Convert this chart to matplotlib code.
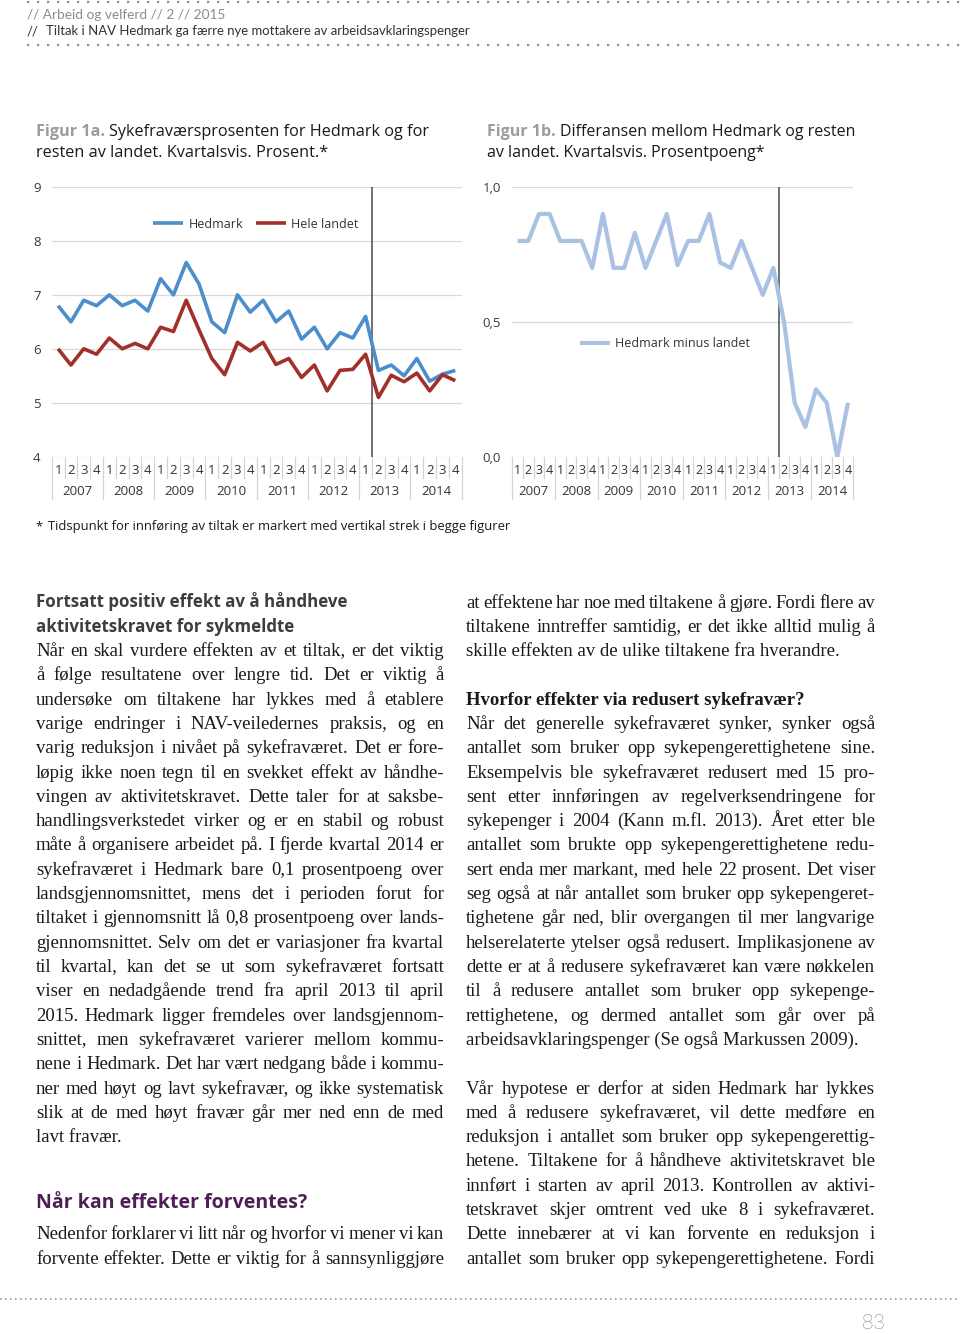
import numpy as np
import matplotlib
matplotlib.use('Agg')
import matplotlib.pyplot as plt
from matplotlib.transforms import blended_transform_factory
from matplotlib.font_manager import FontProperties
from matplotlib.backends.backend_agg import get_hinting_flag

W, H = 960, 1334

# values (quarterly 2007-2014)
years = ['2007', '2008', '2009', '2010', '2011', '2012', '2013', '2014']
quarters = ['1', '2', '3', '4']
hedmark = [6.8, 6.5, 6.9, 6.8, 7.0, 6.8, 6.9, 6.7,
           7.3, 7.0, 7.6, 7.2, 6.5, 6.3, 7.0, 6.68,
           6.9, 6.5, 6.7, 6.18, 6.4, 6.0, 6.3, 6.2,
           6.6, 5.6, 5.7, 5.5, 5.82, 5.4, 5.53, 5.6]
landet = [6.0, 5.7, 6.0, 5.9, 6.2, 6.0, 6.1, 6.0,
          6.4, 6.32, 6.9, 6.35, 5.82, 5.52, 6.12, 5.96,
          6.12, 5.71, 5.82, 5.47, 5.7, 5.22, 5.6, 5.62,
          5.9, 5.1, 5.51, 5.39, 5.55, 5.22, 5.52, 5.41]
hedmark_minus_landet = [0.8, 0.8, 0.9, 0.9, 0.8, 0.8, 0.8, 0.7,
                        0.9, 0.7, 0.7, 0.83, 0.7, 0.8, 0.9, 0.71,
                        0.8, 0.8, 0.9, 0.72, 0.7, 0.8, 0.7, 0.6,
                        0.7, 0.5, 0.2, 0.11, 0.25, 0.2, 0.0, 0.2]
tiltak_index = 24  # 2013 q1, tiltak starts right after
ticks_a = [4, 5, 6, 7, 8, 9]
ticks_b = [0.0, 0.5, 1.0]
ticklabels_b = ['0,0', '0,5', '1,0']

header1 = '// Arbeid og velferd // 2 // 2015'
header2 = 'Tiltak i NAV Hedmark ga færre nye mottakere av arbeidsavklaringspenger'
title_a = ['Sykefraværsprosenten for Hedmark og for', 'resten av landet. Kvartalsvis. Prosent.*']
title_b = ['Differansen mellom Hedmark og resten', 'av landet. Kvartalsvis. Prosentpoeng*']
footnote = 'Tidspunkt for innføring av tiltak er markert med vertikal strek i begge figurer'

left_head = ['Fortsatt positiv effekt av å håndheve', 'aktivitetskravet for sykmeldte']
left_par = [
    'Når en skal vurdere effekten av et tiltak, er det viktig',
    'å følge resultatene over lengre tid. Det er viktig å',
    'undersøke om tiltakene har lykkes med å etablere',
    'varige endringer i NAV-veiledernes praksis, og en',
    'varig reduksjon i nivået på sykefraværet. Det er fore-',
    'løpig ikke noen tegn til en svekket effekt av håndhe-',
    'vingen av aktivitetskravet. Dette taler for at saksbe-',
    'handlingsverkstedet virker og er en stabil og robust',
    'måte å organisere arbeidet på. I fjerde kvartal 2014 er',
    'sykefraværet i Hedmark bare 0,1 prosentpoeng over',
    'landsgjennomsnittet, mens det i perioden forut for',
    'tiltaket i gjennomsnitt lå 0,8 prosentpoeng over lands-',
    'gjennomsnittet. Selv om det er variasjoner fra kvartal',
    'til kvartal, kan det se ut som sykefraværet fortsatt',
    'viser en nedadgående trend fra april 2013 til april',
    '2015. Hedmark ligger fremdeles over landsgjennom-',
    'snittet, men sykefraværet varierer mellom kommu-',
    'nene i Hedmark. Det har vært nedgang både i kommu-',
    'ner med høyt og lavt sykefravær, og ikke systematisk',
    'slik at de med høyt fravær går mer ned enn de med',
    'lavt fravær.',
]
left_head2 = 'Når kan effekter forventes?'
left_par2 = [
    'Nedenfor forklarer vi litt når og hvorfor vi mener vi kan',
    'forvente effekter. Dette er viktig for å sannsynliggjøre',
]
right_par1 = [
    'at effektene har noe med tiltakene å gjøre. Fordi flere av',
    'tiltakene inntreffer samtidig, er det ikke alltid mulig å',
    'skille effekten av de ulike tiltakene fra hverandre.',
]
right_head = 'Hvorfor effekter via redusert sykefravær?'
right_par2 = [
    'Når det generelle sykefraværet synker, synker også',
    'antallet som bruker opp sykepengerettighetene sine.',
    'Eksempelvis ble sykefraværet redusert med 15 pro-',
    'sent etter innføringen av regelverksendringene for',
    'sykepenger i 2004 (Kann m.fl. 2013). Året etter ble',
    'antallet som brukte opp sykepengerettighetene redu-',
    'sert enda mer markant, med hele 22 prosent. Det viser',
    'seg også at når antallet som bruker opp sykepengeret-',
    'tighetene går ned, blir overgangen til mer langvarige',
    'helserelaterte ytelser også redusert. Implikasjonene av',
    'dette er at å redusere sykefraværet kan være nøkkelen',
    'til å redusere antallet som bruker opp sykepenge-',
    'rettighetene, og dermed antallet som går over på',
    'arbeidsavklaringspenger (Se også Markussen 2009).',
]
right_par3 = [
    'Vår hypotese er derfor at siden Hedmark har lykkes',
    'med å redusere sykefraværet, vil dette medføre en',
    'reduksjon i antallet som bruker opp sykepengerettig-',
    'hetene. Tiltakene for å håndheve aktivitetskravet ble',
    'innført i starten av april 2013. Kontrollen av aktivi-',
    'tetskravet skjer omtrent ved uke 8 i sykefraværet.',
    'Dette innebærer at vi kan forvente en reduksjon i',
    'antallet som bruker opp sykepengerettighetene. Fordi',
]

SANS = 'Open Sans'
SERIF = 'Liberation Serif'
BLUE = '#4b8ecb'
RED = '#a2302a'
LIGHT = '#a9c1e3'
GRID = '#d9d9d9'
TXT = '#1a1a1a'
GRAY = '#9c9c9c'
PURPLE = '#4e1f55'

fig = plt.figure(figsize=(W / 100, H / 100), dpi=100)
page = fig.add_axes([0, 0, 1, 1], zorder=0)
page.set_xlim(0, W)
page.set_ylim(H, 0)
page.axis('off')
renderer = fig.canvas.get_renderer()


def text_w(s, size, family, weight='normal'):
    t = page.text(0, 0, s, fontsize=size, family=family, weight=weight)
    w = t.get_window_extent(renderer).width
    t.remove()
    return w


def fit(s, target, family, weight='normal'):
    return 10 * target / text_w(s, 10, family, weight)


def put(x, y, s, size, family, color=TXT, weight='normal', **kw):
    return page.text(x, y, s, fontsize=size, family=family, color=color,
                     weight=weight, va='baseline', **kw)


def snapped_y(s, size, family, base):
    # agg rounds each string's bitmap by its own descent; shift the
    # anchor so every word of a line lands on the same pixel baseline
    try:
        font = renderer._prepare_font(FontProperties(family=family, size=size))
        font.set_text(s, 0, flags=get_hinting_flag())
        h = font.get_width_height()[1] / 64.0
        d = font.get_descent() / 64.0
        return base + np.floor(h) - np.floor(h - d) - d
    except Exception:
        return base


def justified(x0, x1, y, line, size, last=False):
    y = round(y)
    words = [line] if last else line.split()
    ws = [text_w(w, size, SERIF) for w in words]
    gap = 0 if last else (x1 - x0 - sum(ws)) / (len(words) - 1)
    x = x0
    for w, wd in zip(words, ws):
        put(x, snapped_y(w, size, SERIF, y), w, size, SERIF)
        x += wd + gap


def dotted(x0, x1, y, lw, dash, color):
    page.plot([x0, x1], [y, y], color=color, lw=lw, dashes=dash,
              dash_capstyle='butt')


# header
dotted(27, W, 2, 1.6, (1, 3.5), '#8f8f8f')
dotted(27, W, 45, 1.6, (1, 3.5), '#8f8f8f')
put(27, 19, header1, fit(header1, 198, 'Lato'), 'Lato', color='#8c8c8c')
s2 = fit(header2, 423, 'Lato')
put(27, 35, '//', s2, 'Lato', color='#3b1f40')
put(46.5, 35, header2, s2, 'Lato', color='#333333')


# figure titles
def title(x, y0, bold, lines, target):
    sp = text_w('x x', 10, SANS) - text_w('xx', 10, SANS)
    base = text_w(bold, 10, SANS, 'bold') + sp + text_w(lines[0], 10, SANS)
    size = 10 * target / base
    put(x, y0, bold, size, SANS, color=GRAY, weight='bold')
    put(x + text_w(bold, size, SANS, 'bold') + sp * size / 10, y0, lines[0], size, SANS)
    put(x, y0 + 20.5, lines[1], size, SANS)


title(35.5, 136.5, 'Figur 1a.', title_a, 393)
title(487, 136.5, 'Figur 1b.', title_b, 368)


def chart(box, series, ylim, yticks, ylabels, anchor, qsize):
    l, t, r, b = box
    ax = fig.add_axes([l / W, 1 - b / H, (r - l) / W, (b - t) / H], zorder=2)
    ax.patch.set_alpha(0)
    x = np.arange(len(series[0][1]))
    for label, vals, color, lw in series:
        ax.plot(x, vals, color=color, lw=lw, label=label,
                solid_joinstyle='round', solid_capstyle='butt', zorder=3)
    ax.axvline(tiltak_index + 0.5, color='#4a4a4a', lw=1.1, zorder=2)
    ax.set_xlim(-0.5, len(x) - 0.5)
    ax.set_ylim(*ylim)
    ax.set_yticks(yticks, ylabels)
    ax.set_xticks([])
    ax.tick_params(axis='y', length=0, pad=8, labelsize=9.5, labelcolor='#3a3a3a')
    for lab in ax.get_yticklabels():
        lab.set_family(SANS)
    ax.grid(axis='y', color=GRID, lw=0.9, zorder=0)
    for s in ax.spines.values():
        s.set_visible(False)
    ax.legend(loc='center', bbox_to_anchor=anchor, ncol=2, frameon=False,
              prop={'family': SANS, 'size': 9}, labelcolor='#333333',
              handlelength=2.4, handletextpad=0.45, columnspacing=1.0)
    tr = blended_transform_factory(ax.transData, page.transData)
    for i in x:
        page.text(i, b + 17, quarters[i % 4], transform=tr, ha='center',
                  va='baseline', fontsize=qsize, family=SANS, color='#333333')
    for j, yr in enumerate(years):
        page.text(4 * j + 1.5, b + 38, yr, transform=tr, ha='center',
                  va='baseline', fontsize=9.5, family=SANS, color='#333333')
    for k in range(len(x) + 1):
        bottom = b + 42 if k % 4 == 0 else b + 21
        page.plot([k - 0.5, k - 0.5], [b, bottom], transform=tr,
                  color='#d4d4d4', lw=0.9)
    return ax


chart((51.7, 187, 461.7, 456.7),
      [('Hedmark', hedmark, BLUE, 2.6), ('Hele landet', landet, RED, 2.6)],
      (4, 9), ticks_a, [str(v) for v in ticks_a], (0.498, 0.862), 9.5)
chart((512.3, 187, 853.3, 456.7),
      [('Hedmark minus landet', hedmark_minus_landet, LIGHT, 3.0)],
      (0, 1), ticks_b, ticklabels_b, (0.448, 0.42), 9)

fs = fit(footnote, 462, SANS)
put(35.5, 530, '*', fs, SANS)
put(48.3, 530, footnote, fs, SANS)

# body text
body = fit('arbeidsavklaringspenger (Se også Markussen 2009).', 392, SERIF)
pitch = 24.3
y0 = 607.5
LX0, LX1 = 36, 444
RX0, RX1 = 466, 875

hs = fit(left_head[0], 312, SANS, 'bold')
put(LX0, 607, left_head[0], hs, SANS, color='#3d3d3d', weight='bold')
put(LX0, 632, left_head[1], hs, SANS, color='#3d3d3d', weight='bold')
for k, line in enumerate(left_par):
    justified(LX0, LX1, y0 + pitch * (k + 2), line, body, k == len(left_par) - 1)
put(LX0, 1208, left_head2, fit(left_head2, 271, SANS, 'bold'), SANS,
    color=PURPLE, weight='bold')
for k, line in enumerate(left_par2):
    justified(LX0, LX1, y0 + pitch * (k + 26), line, body)

for k, line in enumerate(right_par1):
    justified(RX0, RX1, y0 + pitch * k, line, body, k == len(right_par1) - 1)
put(RX0, round(y0 + pitch * 4), right_head, fit(right_head, 341, SERIF, 'bold'), SERIF,
    weight='bold')
for k, line in enumerate(right_par2):
    justified(RX0, RX1, y0 + pitch * (k + 5), line, body, k == len(right_par2) - 1)
for k, line in enumerate(right_par3):
    justified(RX0, RX1, y0 + pitch * (k + 20), line, body)

# footer
dotted(0, W, 1299, 1.2, (1, 2.0), '#9a9a9a')
put(873, 1329, '83', 15, 'Roboto', color='#8a8a8a', weight='light', ha='center')

fig.savefig('out.png', dpi=100)
